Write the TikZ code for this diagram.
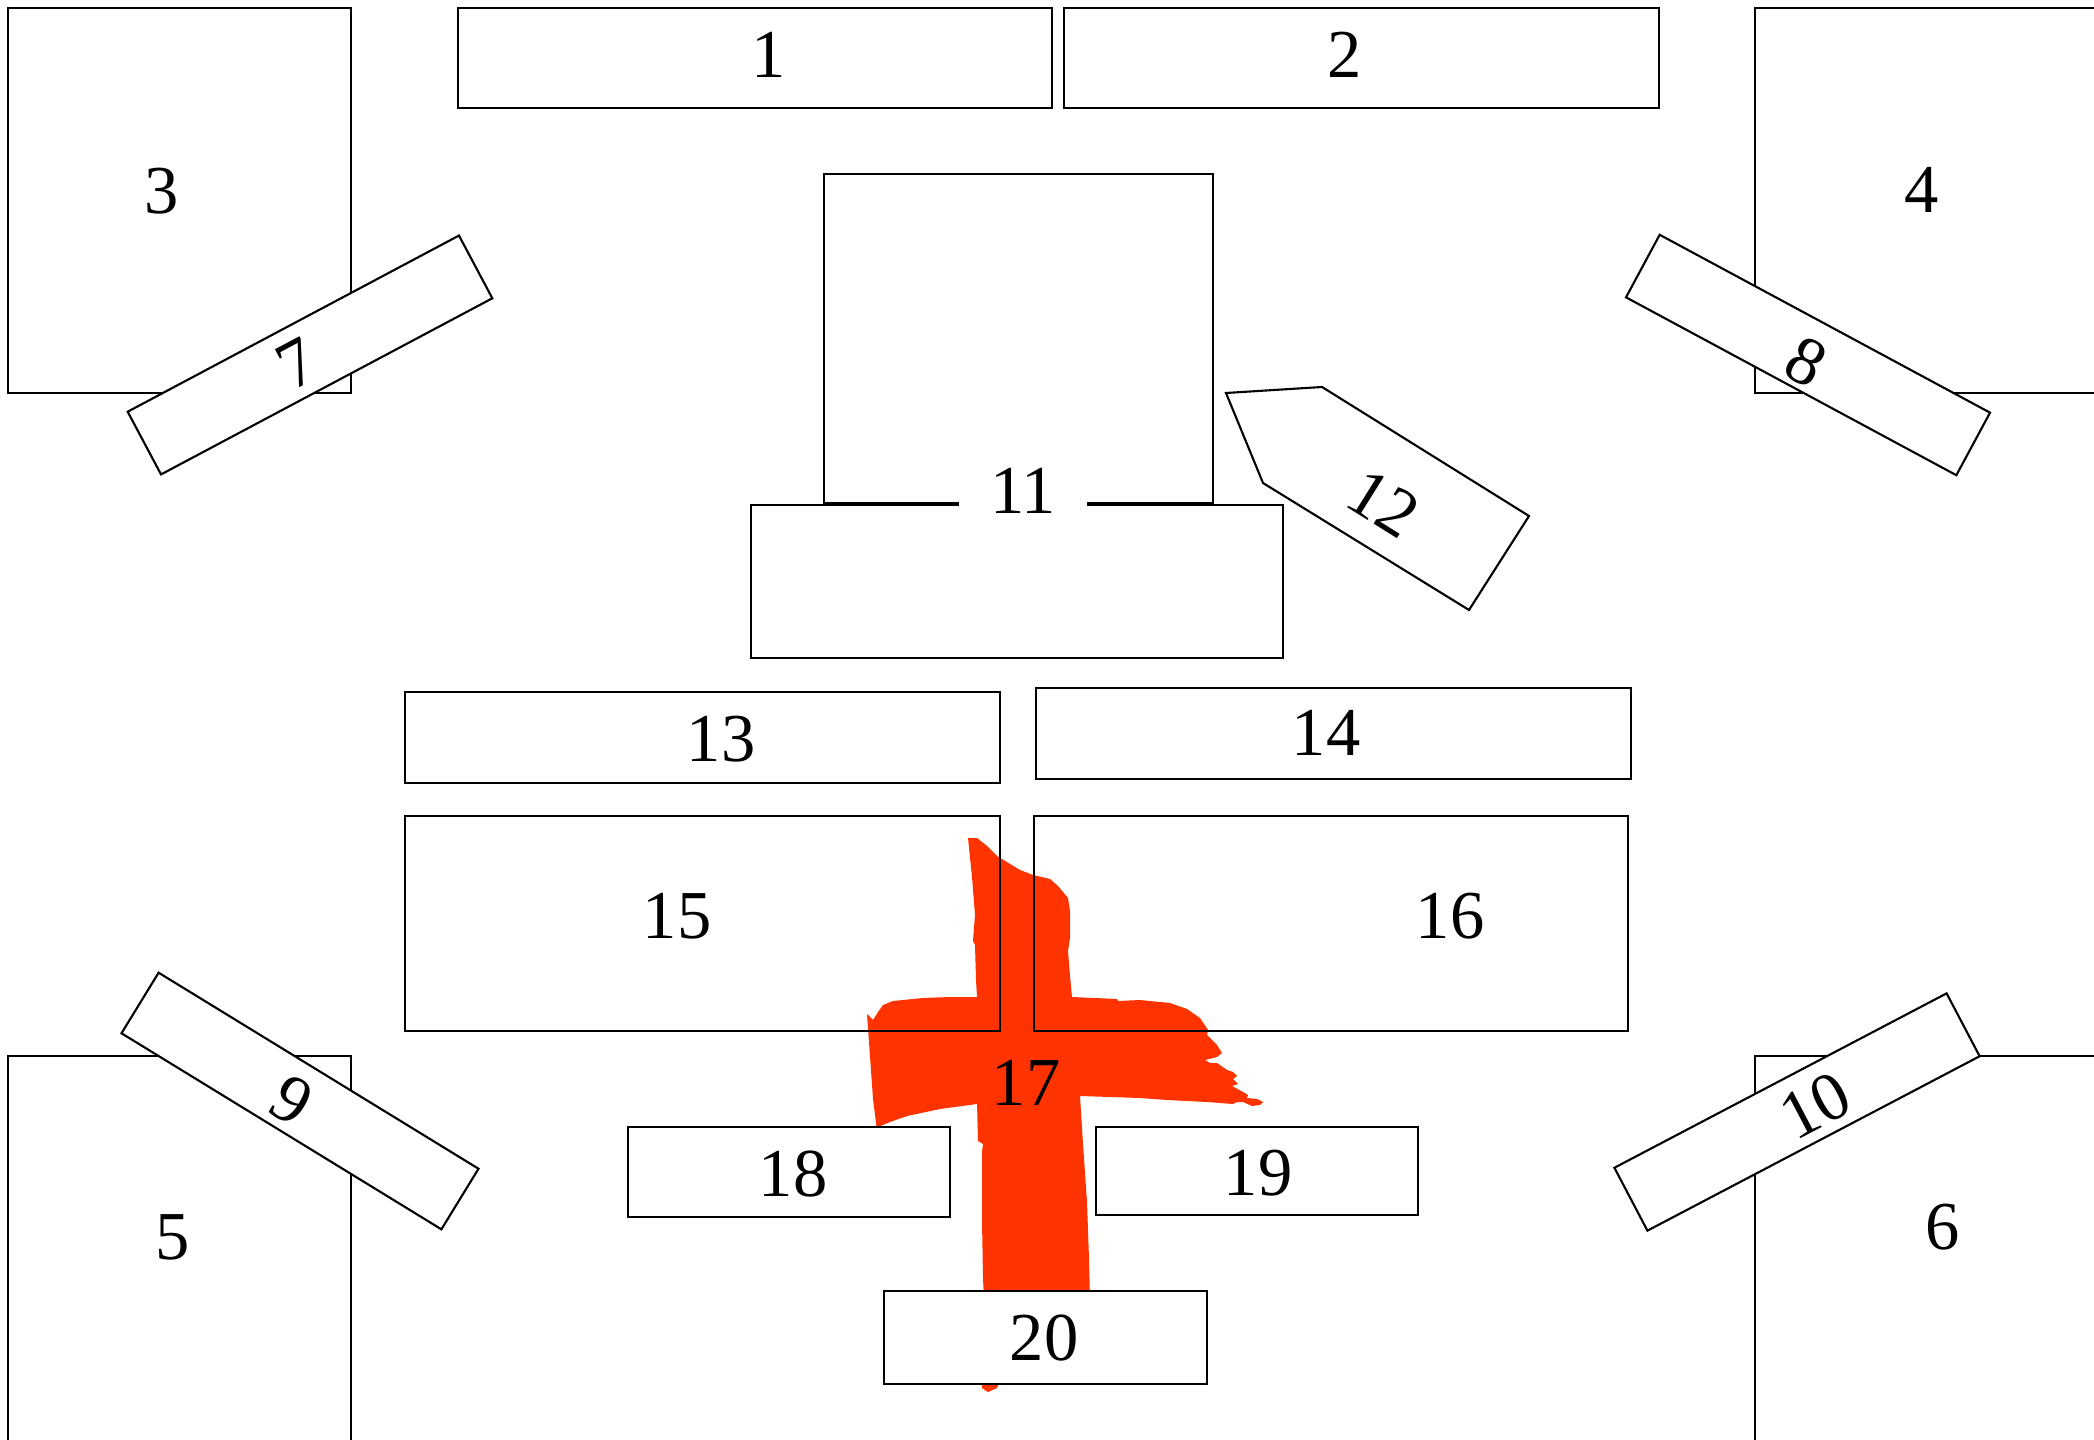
\documentclass[tikz,border=0pt]{standalone}
\usepackage{fontspec}
\setmainfont{Liberation Serif}
\usetikzlibrary{positioning}
\definecolor{crossred}{RGB}{255,51,0}

\begin{document}
\begin{tikzpicture}[
  x=0.01cm,y=-0.01cm,
  room/.style={draw=black,line width=0.6pt},
  desk/.style={room,fill=white},
  bar/.style={desk,minimum width=3.75cm,minimum height=0.71cm,inner sep=0pt},
  num/.style={font=\fontsize{19.5}{23}\selectfont,inner sep=1pt}
]
\useasboundingbox (0,0) rectangle (2094,1440);
% ---------- red cross (brush stroke)
\fill[crossred] (968,838) -- (977,838) -- (987,846) -- (997,856) -- (1020,870) -- (1033,875)
  -- (1050,879) -- (1058,886) -- (1068,898) -- (1070,911) -- (1070,938) -- (1068,951)
  -- (1070,976) -- (1072,997) -- (1117,999) -- (1118,1001) -- (1140,1000) -- (1170,1003)
  -- (1187,1009) -- (1200,1018) -- (1208,1030) -- (1207,1035) -- (1217,1045) -- (1222,1053)
  -- (1217,1057) -- (1205,1060) -- (1210,1063) -- (1217,1063) -- (1227,1070) -- (1233,1072)
  -- (1237,1076) -- (1233,1079) -- (1238,1084) -- (1232,1086) -- (1243,1092) -- (1248,1095)
  -- (1247,1098) -- (1257,1099) -- (1263,1102) -- (1260,1105) -- (1252,1106) -- (1243,1102)
  -- (1237,1102) -- (1233,1104) -- (1207,1102) -- (1167,1100) -- (1140,1098) -- (1080,1096)
  -- (1083,1144) -- (1087,1202) -- (1089,1259) -- (1090,1300) -- (1000,1380) -- (997,1388)
  -- (988,1392) -- (982,1388) -- (984,1300) -- (983,1278) -- (982,1221) -- (982,1152)
  -- (983,1144) -- (978,1141) -- (977,1104) -- (940,1109) -- (907,1116) -- (890,1122)
  -- (878,1127) -- (877,1131) -- (873,1099) -- (867,1014) -- (873,1020) -- (878,1012)
  -- (883,1005) -- (893,1001) -- (923,998) -- (950,997) -- (977,997) -- (976,980)
  -- (975,945) -- (973,941) -- (975,915) -- (972,877) -- cycle;
% ---------- corner rooms
\draw[room] (8,8) rectangle (351,393);
\draw[room] (2094,8) -- (1755,8) -- (1755,393) -- (2094,393);
\draw[room] (8,1440) -- (8,1056) -- (351,1056) -- (351,1440);
\draw[room] (2094,1056) -- (1755,1056) -- (1755,1440);
\node[num] (l3) at (162,191) {3};
\node[num] (l4) at (1922,190) {4};
\node[num] (l5) at (173,1237) {5};
\node[num] (l6) at (1943,1227) {6};
% ---------- top row
\draw[room] (458,8) rectangle (1052,108);
\draw[room] (1064,8) rectangle (1659,108);
\node[num] (l1) at (769,55) {1};
\node[num] (l2) at (1345,55) {2};
% ---------- slanted benches
\node[bar,rotate=28]    (t7)  at (310,355)  {};
\node[bar,rotate=-28.3] (t8)  at (1808,355) {};
\node[bar,rotate=-31.5] (t9)  at (300,1101) {};
\node[bar,rotate=27.7]  (t10) at (1797,1112) {};
\node[num,rotate=28]    (l7)  at (297,364)  {7};
\node[num,rotate=-28.3] (l8)  at (1806,362) {8};
\node[num,rotate=-31.5] (l9)  at (292,1100) {9};
\node[num,rotate=27.7]  (l10) at (1815,1106) {10};
% ---------- stage 11 and 12
\draw[room] (824,174) rectangle (1213,503);
\draw[room] (751,505) rectangle (1283,658);
\node[num,fill=white,inner xsep=0.31cm] (l11) at (1023,491) {11};
\draw[desk] (1226,393) -- (1322,387) -- (1529,516) -- (1469,610) -- (1263,483) -- cycle;
\node[num,rotate=-32] (l12) at (1384,503) {12};
% ---------- middle rows
\draw[room] (405,692) rectangle (1000,783);
\draw[room] (1036,688) rectangle (1631,779);
\node[num] (l13) at (721,739) {13};
\node[num] (l14) at (1326,733) {14};
\draw[room] (405,816) rectangle (1000,1031);
\draw[room] (1034,816) rectangle (1628,1031);
\node[num] (l15) at (677,916) {15};
\node[num] (l16) at (1450,916) {16};
\node[num] (l17) at (1026,1083) {17};
% ---------- bottom rows
\draw[desk] (628,1127) rectangle (950,1217);
\draw[desk] (1096,1127) rectangle (1418,1215);
\draw[desk] (884,1291) rectangle (1207,1384);
\node[num] (l18) at (793,1174) {18};
\node[num] (l19) at (1258,1173) {19};
\node[num] (l20) at (1044,1338) {20};
\end{tikzpicture}
\end{document}
